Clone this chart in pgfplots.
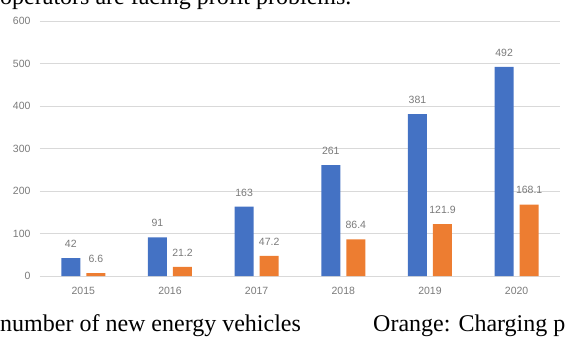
\documentclass[border=0pt]{standalone}
\usepackage{pgfplots}
\pgfplotsset{compat=1.18}
\usepackage{fontspec}
\setmainfont{Liberation Serif}
\newfontfamily\labelfont{Liberation Sans}
\definecolor{cblue}{HTML}{4472C4}
\definecolor{corange}{HTML}{ED7D31}
\definecolor{tickgray}{HTML}{7A7A7A}
\definecolor{gridgray}{HTML}{D9D9D9}
\begin{document}
\begin{tikzpicture}[x=1pt,y=1pt]
\useasboundingbox (0,0) rectangle (565,338);
\clip (0,0) rectangle (565,338);
\node[anchor=base west, inner sep=0pt, font=\fontsize{24}{28}\selectfont] at (0,333) {operators are facing profit problems.};
\node[anchor=base west, inner sep=0pt, font=\fontsize{24}{28}\selectfont] at (0,7) {number of new energy vehicles};
\node[anchor=base west, inner sep=0pt, font=\fontsize{24}{28}\selectfont] at (373,7) {Orange: Charging piles};
\begin{axis}[
  at={(40pt,62pt)}, anchor=south west, scale only axis,
  width=520pt, height=255pt,
  ybar=6pt, bar width=19pt,
  xmin=-0.5, xmax=5.5, ymin=0, ymax=600,
  ytick={0,100,...,600},
  xtick={0,...,5}, xticklabels={2015,2016,2017,2018,2019,2020},
  axis line style={draw=none},
  tick style={draw=none},
  ymajorgrids, major grid style={gridgray, line width=0.8pt},
  /pgf/number format/assume math mode=true,
  ticklabel style={font=\labelfont\fontsize{10.5}{12}\selectfont, text=tickgray},
  xticklabel style={yshift=-3pt},
  yticklabel style={xshift=-6pt},
  nodes near coords,
  every node near coord/.append style={font=\labelfont\fontsize{10.5}{12}\selectfont, text=tickgray, yshift=7pt},
  /pgf/number format/.cd, fixed, precision=1,
]
\addplot[fill=cblue, draw=none] coordinates {(0,42) (1,91) (2,163) (3,261) (4,381) (5,492)};
\addplot[fill=corange, draw=none] coordinates {(0,6.6) (1,21.2) (2,47.2) (3,86.4) (4,121.9) (5,168.1)};
\end{axis}
\end{tikzpicture}
\end{document}
